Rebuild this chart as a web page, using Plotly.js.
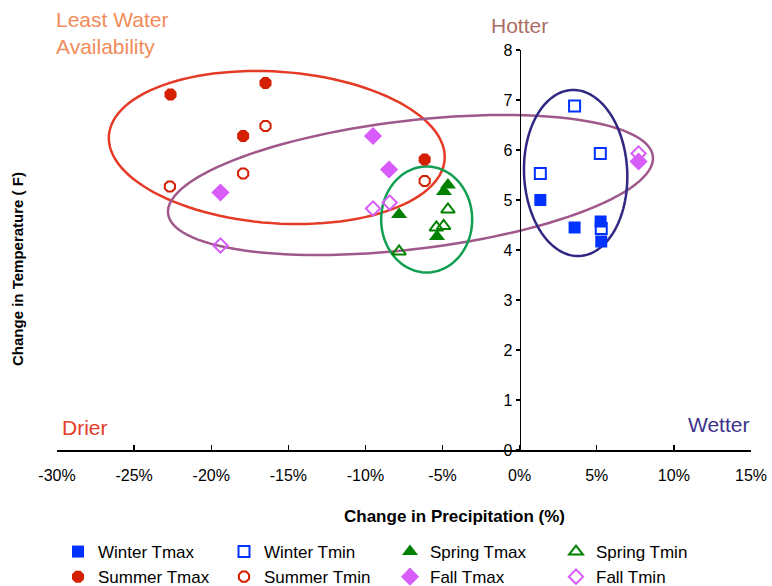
<!DOCTYPE html>
<html>
<head>
<meta charset="utf-8">
<script src="https://cdn.plot.ly/plotly-3.0.1.min.js"></script>
<style>html,body{margin:0;padding:0;background:#fff;}#chart{width:772px;height:586px;}</style>
</head>
<body>
<div id="chart"></div>
<script>
// ---- Data (precipitation change %, temperature change F) ----
var winterTmaxX = [1.34, 3.56, 5.25, 5.29];
var winterTmaxY = [5.00, 4.45, 4.57, 4.17];
var winterTminX = [3.56, 5.23, 1.34, 5.29];
var winterTminY = [6.88, 5.93, 5.53, 4.43];
var springTmaxX = [-7.82, -4.65, -4.91, -5.36];
var springTmaxY = [4.71, 5.30, 5.17, 4.27];
var springTminX = [-4.65, -4.93, -5.40, -7.82];
var springTminY = [4.81, 4.48, 4.45, 3.97];
var summerTmaxX = [-22.64, -16.48, -17.93, -6.16];
var summerTmaxY = [7.11, 7.34, 6.28, 5.81];
var summerTminX = [-16.48, -17.93, -22.68, -6.16];
var summerTminY = [6.48, 5.53, 5.27, 5.38];
var fallTmaxX = [-19.4, -9.51, -8.47, 7.71];
var fallTmaxY = [5.15, 6.28, 5.61, 5.77];
var fallTminX = [-19.4, -9.51, -8.43, 7.71];
var fallTminY = [4.09, 4.83, 4.95, 5.93];

var xTicks = [-30, -25, -20, -15, -10, -5, 0, 5, 10, 15];
var yTicks = [0, 1, 2, 3, 4, 5, 6, 7, 8];
var xRange = [-30, 15];
var yRange = [0, 8];

var FONT = 'Liberation Sans, Arial, sans-serif';
var cWinter = 'rgb(0,51,255)';
var cSpring = 'rgb(0,130,0)';
var cSummer = 'rgb(212,32,0)';
var cFall = 'rgb(216,92,250)';

function tr(name, x, y, symbol, color, size, open) {
  return {
    type: 'scatter', mode: 'markers', name: name, x: x, y: y,
    marker: open ? {symbol: symbol, size: size, color: color, line: {color: color, width: 2}}
                 : {symbol: symbol, size: size, color: color, line: {width: 0}},
    cliponaxis: false
  };
}

var data = [
  tr('Winter Tmax', winterTmaxX, winterTmaxY, 'square', cWinter, 12, false),
  tr('Winter Tmin', winterTminX, winterTminY, 'square-open', cWinter, 11, true),
  tr('Spring Tmax', springTmaxX, springTmaxY, 'triangle-up', cSpring, 14, false),
  tr('Spring Tmin', springTminX, springTminY, 'triangle-up-open', cSpring, 12, true),
  tr('Summer Tmax', summerTmaxX, summerTmaxY, 'octagon', cSummer, 13, false),
  tr('Summer Tmin', summerTminX, summerTminY, 'octagon-open', cSummer, 11, true),
  tr('Fall Tmax', fallTmaxX, fallTmaxY, 'diamond', cFall, 14, false),
  tr('Fall Tmin', fallTminX, fallTminY, 'diamond-open', cFall, 11, true)
];

// plot area geometry
var W = 772, H = 586;
var M = {l: 57, r: 21, t: 50, b: 136};
var pw = W - M.l - M.r, ph = H - M.t - M.b;
var sx = pw / (xRange[1] - xRange[0]);
var sy = ph / (yRange[1] - yRange[0]);

// ellipse outline: centre in data units, semi-axes in pixels, tilt in degrees
function ellipsePath(cx, cy, a, b, deg) {
  var th = deg * Math.PI / 180, n = 120, p = '';
  for (var i = 0; i <= n; i++) {
    var t = 2 * Math.PI * i / n;
    var dx = a * Math.cos(t) * Math.cos(th) - b * Math.sin(t) * Math.sin(th);
    var dy = a * Math.cos(t) * Math.sin(th) + b * Math.sin(t) * Math.cos(th);
    var X = cx + dx / sx, Y = cy - dy / sy;
    p += (i === 0 ? 'M' : 'L') + X.toFixed(4) + ',' + Y.toFixed(4);
  }
  return p + 'Z';
}
function ell(path, color) {
  return {type: 'path', xref: 'x', yref: 'y', path: path, line: {color: color, width: 2.5}, layer: 'below'};
}

var shapes = [
  ell(ellipsePath(-15.75, 6.05, 168.3, 75.8, 4.06), 'rgb(228,58,38)'),
  ell(ellipsePath(-7.08, 5.30, 244.1, 64.3, -6.75), 'rgb(160,88,140)'),
  ell(ellipsePath(-6.03, 4.61, 45.5, 53, 0), 'rgb(16,158,80)'),
  ell(ellipsePath(3.63, 5.54, 51.6, 83.1, -2.6), 'rgb(48,40,130)')
];

function ann(text, x, y, color, size, opts) {
  var a = {text: text, xref: 'paper', yref: 'paper', x: x, y: y, showarrow: false,
           font: {family: FONT, size: size, color: color}, xanchor: 'left', yanchor: 'middle'};
  for (var k in (opts || {})) a[k] = opts[k];
  return a;
}
function px2x(p) { return (p - M.l) / pw; }
function py2y(p) { return 1 - (p - M.t) / ph; }

var annotations = [
  ann('Least Water<br>Availability', px2x(54), py2y(33), 'rgb(240,140,90)', 21, {align: 'left'}),
  ann('Hotter', px2x(519), py2y(25), 'rgb(170,110,100)', 21, {xanchor: 'center'}),
  ann('Drier', px2x(60), py2y(427), 'rgb(230,60,40)', 21),
  ann('Wetter', px2x(686), py2y(424), 'rgb(60,50,140)', 21),
  ann('<b>Change in Precipitation (%)</b>', px2x(455), py2y(516), '#000', 17, {xanchor: 'center'}),
  ann('<b>Change in Temperature ( F)</b>', px2x(17), py2y(269), '#000', 15, {xanchor: 'center', textangle: -90})
];

var layout = {
  width: W, height: H,
  margin: M,
  paper_bgcolor: '#fff', plot_bgcolor: '#fff',
  font: {family: FONT, size: 16, color: '#000'},
  showlegend: true,
  legend: {
    orientation: 'h', xref: 'container', yref: 'container',
    x: 58 / W, xanchor: 'left', y: 1 - 534 / H, yanchor: 'top',
    entrywidth: 121, entrywidthmode: 'pixels',
    font: {family: FONT, size: 17, color: '#000'},
    itemwidth: 30, tracegroupgap: 0
  },
  xaxis: {
    range: xRange, tickvals: xTicks, ticktext: xTicks.map(function (v) { return v + '%'; }),
    ticks: 'inside', ticklen: 5, tickcolor: '#000', tickwidth: 1.3,
    showline: true, linecolor: '#000', linewidth: 1.5,
    showgrid: false, zeroline: false, ticklabelstandoff: 10,
    tickfont: {family: FONT, size: 16, color: '#000'}
  },
  yaxis: {
    range: yRange, tickvals: yTicks, anchor: 'free',
    position: (0 - xRange[0]) / (xRange[1] - xRange[0]),
    ticks: 'outside', ticklen: 4, tickcolor: '#000', tickwidth: 1.3,
    showline: true, linecolor: '#000', linewidth: 1.5,
    showgrid: false, zeroline: false,
    tickfont: {family: FONT, size: 16, color: '#000'}
  },
  shapes: shapes,
  annotations: annotations
};

Plotly.newPlot('chart', data, layout, {displayModeBar: false, staticPlot: true});
</script>
</body>
</html>
